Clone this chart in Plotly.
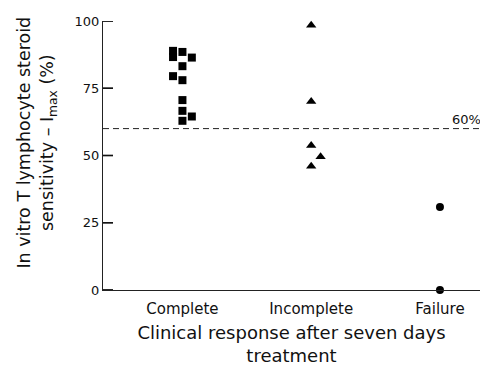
import plotly.graph_objects as go

categories = ["Complete", "Incomplete", "Failure"]
complete_vals = [88.9, 86.6, 88.5, 86.4, 83.2, 79.5, 78.0, 70.6, 66.6, 64.5, 62.9]
complete_col = [-1, -1, 0, 1, 0, -1, 0, 0, 0, 1, 0]
incomplete_vals = [98.4, 70.1, 53.7, 49.5, 46.0]
incomplete_col = [0, 0, 0, 1, 0]
failure_vals = [30.9, 0.0]
failure_col = [0, 0]
y_ticks = [0, 25, 50, 75, 100]
threshold = 60

SPREAD = 0.073
FONT = "DejaVu Sans"
X_RANGE = [-0.617, 2.311]
TICK_LEN = 10 / 377 * (X_RANGE[1] - X_RANGE[0])

fig = go.Figure()
groups = [
    (0, complete_vals, complete_col, "square", 8),
    (1, incomplete_vals, incomplete_col, "triangle-up", 9),
    (2, failure_vals, failure_col, "circle", 8),
]
for idx, vals, cols, sym, size in groups:
    fig.add_trace(go.Scatter(
        x=[idx + c * SPREAD for c in cols], y=vals, mode="markers",
        marker=dict(symbol=sym, size=size, color="black", line=dict(width=0)),
        cliponaxis=False, showlegend=False, hoverinfo="skip"))

# inward tick marks on the y axis
tx, ty = [], []
for t in y_ticks:
    tx += [X_RANGE[0], X_RANGE[0] + TICK_LEN, None]
    ty += [t, t, None]
fig.add_trace(go.Scatter(x=tx, y=ty, mode="lines", line=dict(color="#111", width=1.5),
                         cliponaxis=False, showlegend=False, hoverinfo="skip"))
for t in y_ticks:
    fig.add_shape(type="line", xref="x", x0=X_RANGE[0], x1=X_RANGE[0] + TICK_LEN,
                  yref="y", y0=t, y1=t, line=dict(color="#111", width=1.2), layer="above")

fig.add_shape(type="line", xref="paper", x0=0, x1=1, yref="y", y0=threshold, y1=threshold,
              line=dict(color="#222", width=1, dash="6px,4px"))
fig.add_annotation(text="60%", xref="paper", x=0.921, xanchor="left", yref="y", y=threshold,
                   yanchor="bottom", yshift=0, showarrow=False,
                   font=dict(family=FONT, size=13, color="#111"))
fig.add_annotation(text="In vitro T lymphocyte steroid<br>sensitivity – I<sub>max</sub> (%)",
                   xref="paper", x=0, xshift=-66, xanchor="center",
                   yref="paper", y=0.548, yanchor="middle", textangle=-90,
                   showarrow=False, font=dict(family=FONT, size=17.5, color="#111"))

fig.update_layout(
    width=480, height=366,
    margin=dict(l=103, r=0, t=21, b=76),
    plot_bgcolor="white", paper_bgcolor="white",
    font=dict(family=FONT, color="#111"),
    xaxis=dict(range=X_RANGE, tickvals=[0, 1, 2], ticktext=categories,
               showgrid=False, zeroline=False, showline=True, linecolor="#222", linewidth=1,
               ticks="", tickfont=dict(family=FONT, size=15, color="#111"), ticklabelstandoff=5,
               title=dict(text="Clinical response after seven days<br>treatment",
                          font=dict(family=FONT, size=18, color="#111"), standoff=10)),
    yaxis=dict(range=[0, 100], tickvals=y_ticks, showgrid=False, zeroline=False,
               showline=True, linecolor="#222", linewidth=1, mirror=False,
               ticks="inside", ticklen=10, tickwidth=1, tickcolor="#222",
               tickfont=dict(family=FONT, size=13, color="#111")),
)
fig.write_html("out.html", config={"displayModeBar": False})

with open("out.html", "r", encoding="utf-8") as f:
    html = f.read()
html = html.replace("<head>", "<head><style>html,body{margin:0;padding:0;overflow:hidden;}</style>", 1)
with open("out.html", "w", encoding="utf-8") as f:
    f.write(html)
